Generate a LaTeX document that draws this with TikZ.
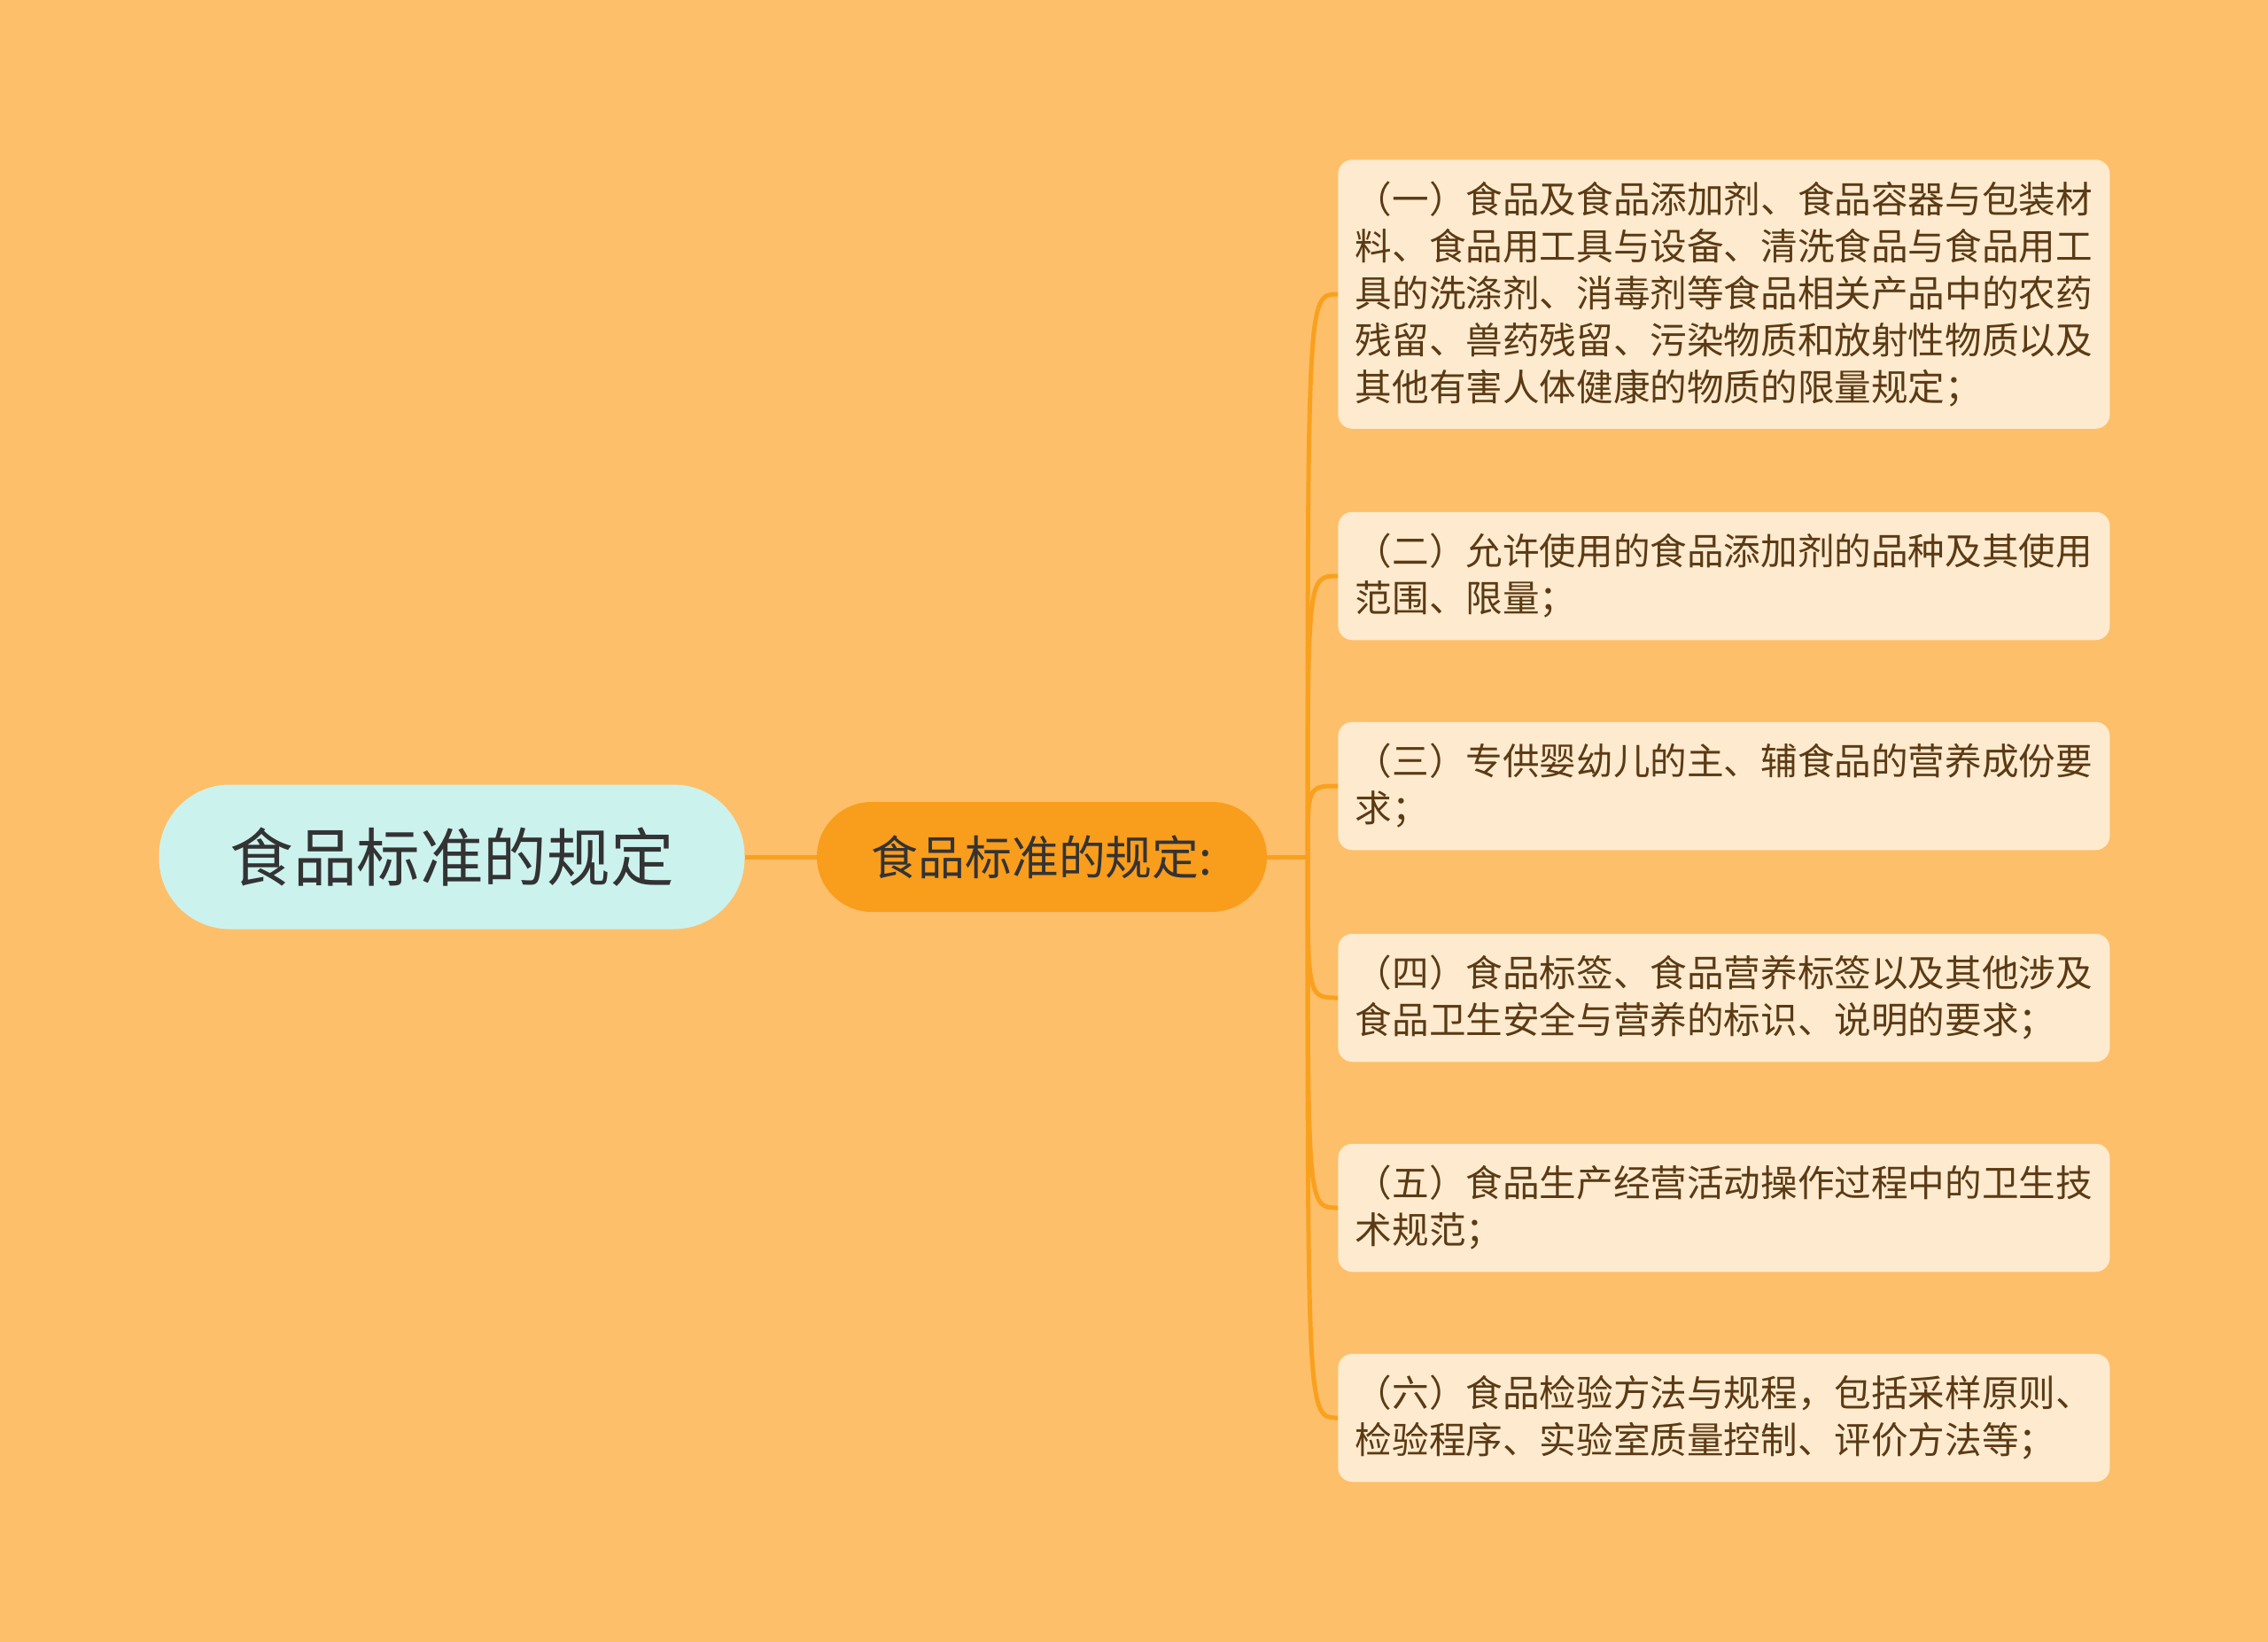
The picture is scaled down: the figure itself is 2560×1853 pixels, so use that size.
\documentclass[tikz,border=0pt]{standalone}
\usepackage{fontspec}
\newfontfamily\cjk{Noto Sans CJK SC}
\definecolor{bg}{HTML}{FEBF6A}
\definecolor{rootfill}{HTML}{CCF2EE}
\definecolor{mainfill}{HTML}{F99D1C}
\definecolor{leaffill}{HTML}{FEEBCF}
\definecolor{leaftext}{HTML}{5B3A14}
\definecolor{linecol}{HTML}{F9A11F}
\definecolor{darktext}{HTML}{333333}
\tikzset{
  rootbox/.style={fill=rootfill, rounded corners=40pt, minimum width=330.5pt, minimum height=81.5pt,
    font=\cjk\fontsize{35.8}{40}\selectfont, text=darktext, inner sep=0pt},
  mainbox/.style={fill=mainfill, rounded corners=31pt, minimum width=254pt, minimum height=62pt,
    font=\cjk\fontsize{26.4}{30}\selectfont, text=darktext, inner sep=0pt},
  leafbox/.style={fill=leaffill, rounded corners=8pt, anchor=west, text width=416pt, align=left,
    inner xsep=9.75pt, inner ysep=12.3pt, font=\cjk\fontsize{20.8}{26.5}\selectfont, text=leaftext},
  link/.style={draw=linecol, line width=2.5pt},
}
\begin{document}
\begin{tikzpicture}[x=0.5pt,y=-0.5pt]
\fill[bg] (0,0) rectangle (2560,1853);
\useasboundingbox (0,0) rectangle (2560,1853);

\node[rootbox] (root) at (510,967) {食品标准的规定};
\node[mainbox] (main) at (1176,967) {食品标准的规定:};
\coordinate (j) at (1476,967);

\node[leafbox] (l1) at (1510,332) {（一）食品及食品添加剂、食品容器与包装材\\料、食品用工具与设备、清洗食品与食品用工\\具的洗涤剂、消毒剂等食品相关产品中的农药\\残留、兽药残留、污染物质和放射性物质以及\\其他有害人体健康的物质的限量规定；};
\node[leafbox] (l2) at (1510,650) {（二）允许使用的食品添加剂的品种及其使用\\范围、限量；};
\node[leafbox] (l3) at (1510,887) {（三）专供婴幼儿的主、辅食品的营养成份要\\求；};
\node[leafbox] (l4) at (1510,1126) {（四）食品标签、食品营养标签以及其他涉及\\食品卫生安全与营养的标识、说明的要求；};
\node[leafbox] (l5) at (1510,1363) {（五）食品生产经营活动操作过程中的卫生技\\术规范；};
\node[leafbox] (l6) at (1510,1600) {（六）食品检验方法与规程，包括采样原则、\\检验程序、实验室质量控制、评价方法等；};

\draw[link] (root.east) -- (main.west);
\draw[link] (main.east) -- (j);
\foreach \n in {l1,l2,l3,l4,l5,l6}{
  \draw[link] (j) .. controls (j |- \n.west) .. (\n.west);
}
\end{tikzpicture}
\end{document}
